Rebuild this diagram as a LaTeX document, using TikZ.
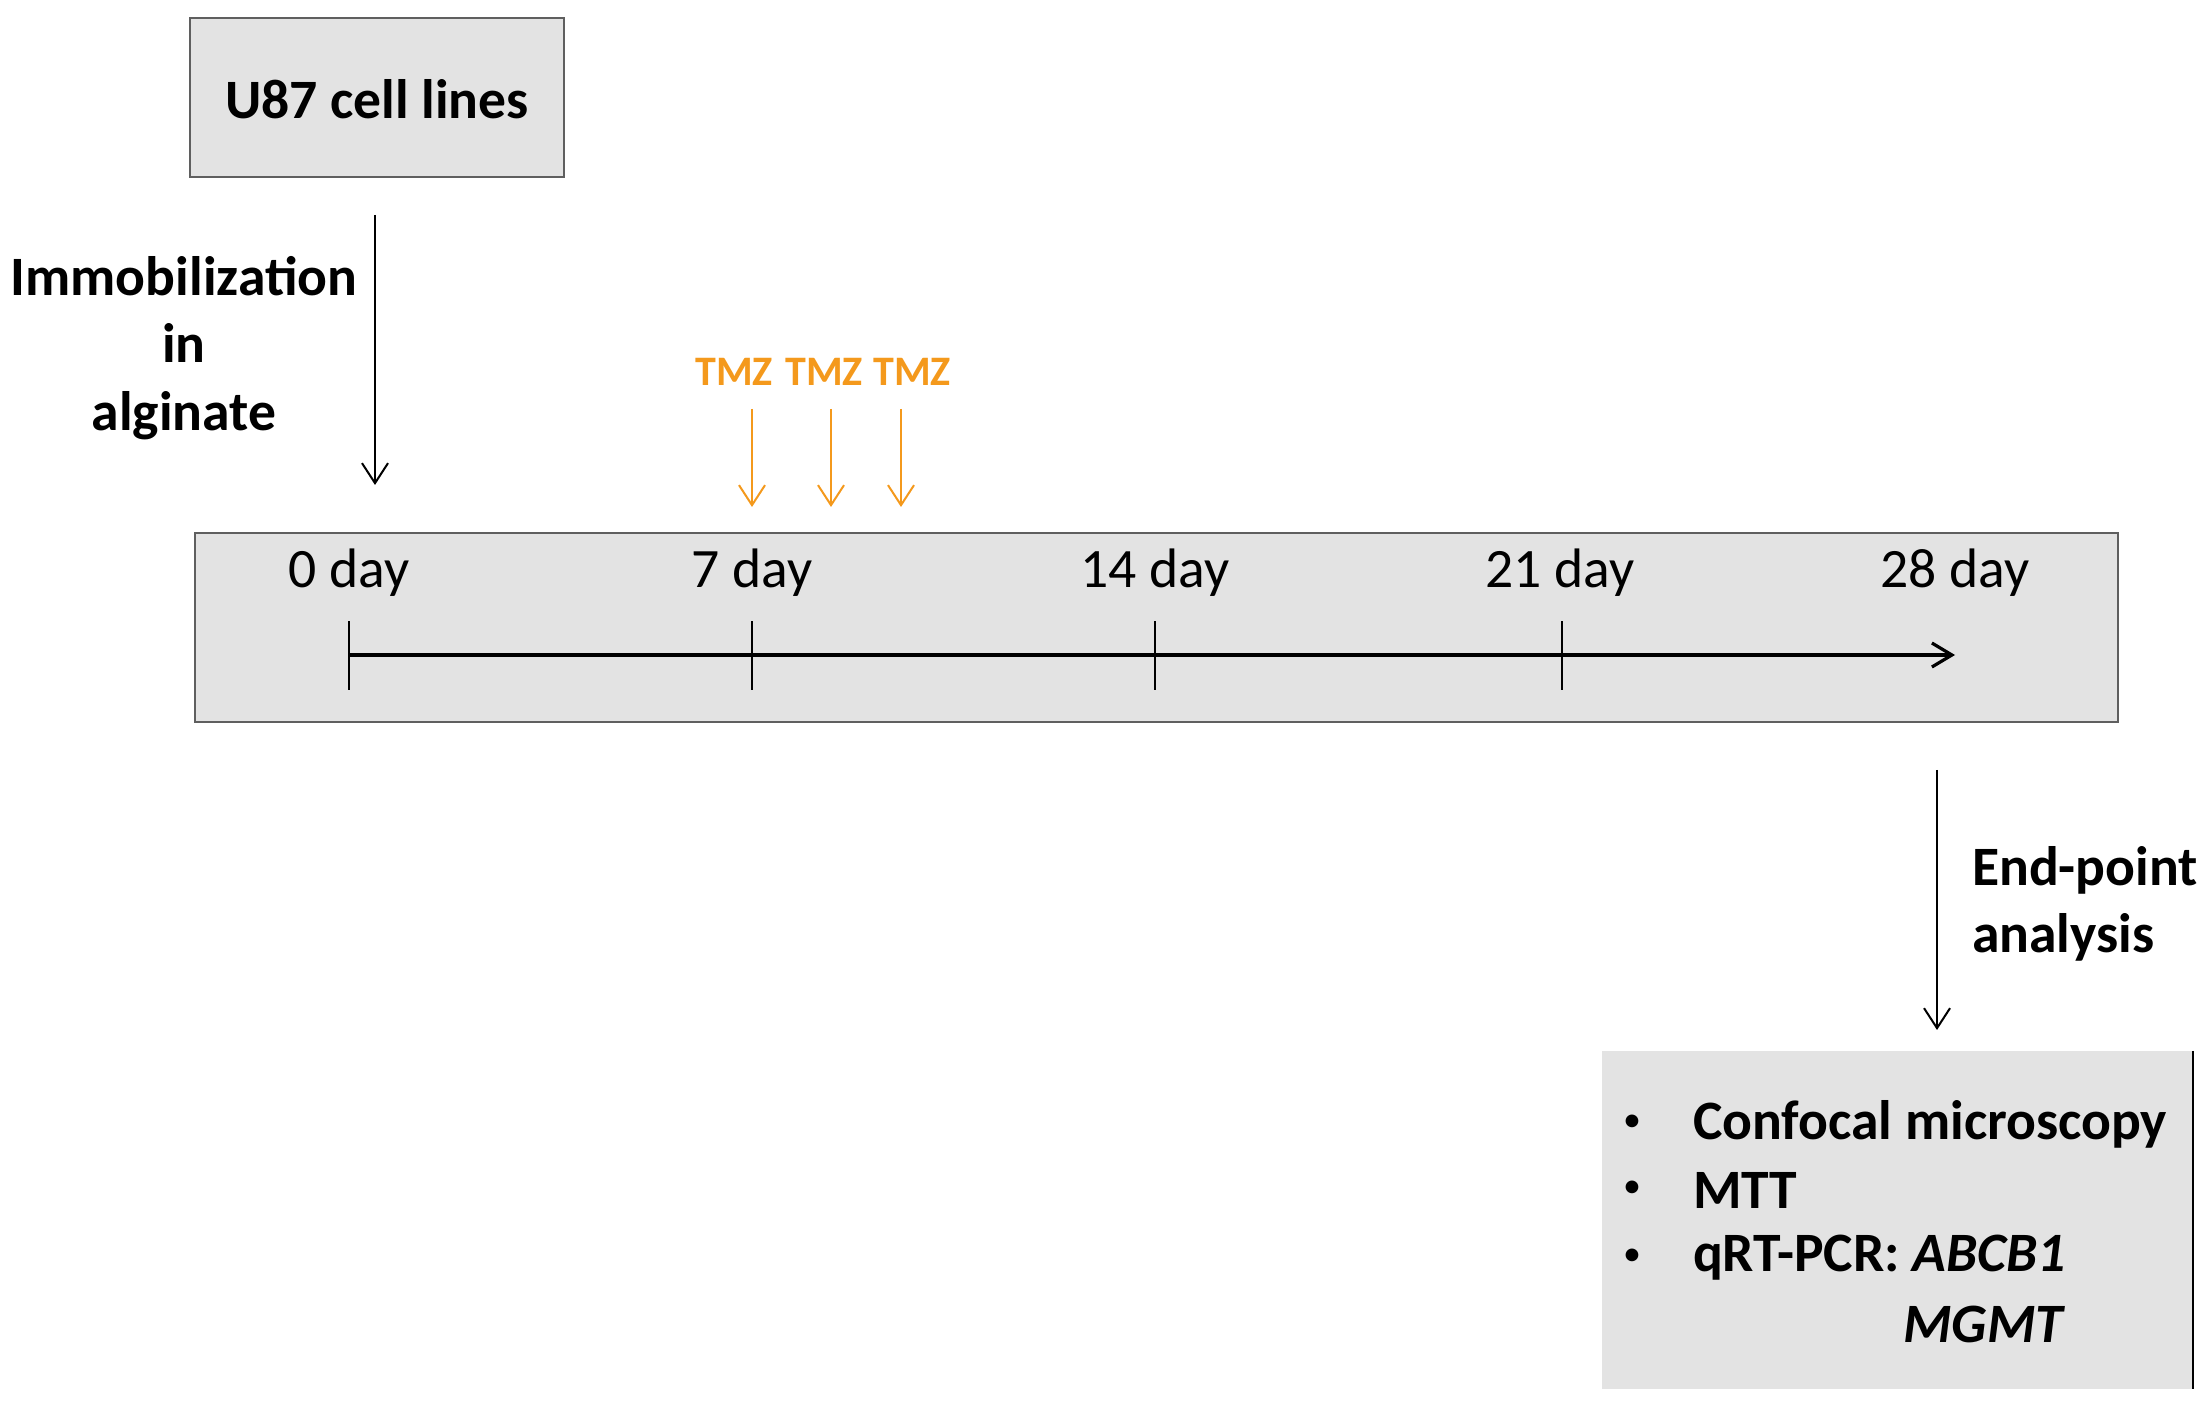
\documentclass[tikz,border=0pt]{standalone}
\usepackage{fontspec}
\setmainfont{Carlito}
\usetikzlibrary{arrows.meta}
\definecolor{boxgray}{RGB}{227,227,227}
\definecolor{edgegray}{RGB}{95,95,95}
\definecolor{tmzorange}{RGB}{244,153,28}
\tikzset{every picture/.style={line width=0.5pt}}

\begin{document}
\begin{tikzpicture}[x=0.25pt,y=0.25pt,yscale=-1,xscale=1,
	box/.style={fill=boxgray,draw=edgegray,line width=0.7pt},
	lbl/.style={inner sep=0pt,font=\fontsize{13.9}{16.9}\selectfont\bfseries},
	daylbl/.style={inner sep=0pt,font=\fontsize{13.9}{16.9}\selectfont},
	tmzlbl/.style={inner sep=0pt,font=\fontsize{10.5}{12}\selectfont\bfseries,text=tmzorange},
	flow/.style={-{Straight Barb[length=5pt,width=6.5pt]}},
	]
	\useasboundingbox (0,0) rectangle (2204,1408);

	%Shape: Rectangle [id:u87box]
	\draw [box] (190,18) rectangle (564,177);
	% Text Node
	\node (u87) [lbl] at (377,99) {U87 cell lines};

	%Straight Lines [id:immob]
	\coordinate (immobtop) at (375,215);
	\coordinate (immobend) at (375,485);
	\draw [flow] (immobtop) -- (immobend);
	% Text Node
	\node (immob) [lbl,align=center] at (184,348) {Immobilization\\in\\alginate};

	%Shape: Rectangle [id:timebox]
	\draw [box] (195,533) rectangle (2118,722);

	%Straight Lines [id:axis]
	\coordinate (d0) at (349,655);
	\coordinate (d7) at (752,655);
	\coordinate (d14) at (1155,655);
	\coordinate (d21) at (1562,655);
	\coordinate (d28) at (1955,655);
	\draw [line width=0.8pt,-{Straight Barb[length=5pt,width=6pt]}] (d0) -- (d28);
	\foreach \t in {d0,d7,d14,d21}
		\draw [line width=0.4pt] ([yshift=8.75pt]\t) -- ([yshift=-8.5pt]\t);

	% Text Node
	\node (l0) [daylbl] at (349,573) {0 day};
	\node (l7) [daylbl] at (752,573) {7 day};
	\node (l14) [daylbl] at (1155,573) {14 day};
	\node (l21) [daylbl] at (1560,573) {21 day};
	\node (l28) [daylbl] at (1955,573) {28 day};

	% Text Node
	\node (tmza) [tmzlbl] at (734,372) {TMZ};
	\node (tmzb) [tmzlbl] at (824,372) {TMZ};
	\node (tmzc) [tmzlbl] at (912,372) {TMZ};
	%Straight Lines [id:tmzarrows]
	\foreach \x in {752,831,901}
		\draw [tmzorange,flow] (\x,409) -- (\x,507);

	%Straight Lines [id:endpoint]
	\coordinate (endtop) at (1937,770);
	\coordinate (endend) at (1937,1030);
	\draw [flow] (endtop) -- (endend);
	% Text Node
	\node (endlbl) [lbl,align=left,anchor=west] at (1971,904) {End-point\\analysis};

	%Shape: Rectangle [id:resbox]
	\fill [boxgray] (1602,1051) rectangle (2193,1389);
	\draw [line width=0.6pt] (2193,1051) -- (2193,1389);

	% Text Node
	\foreach \y in {1123,1189,1257}
		\node [inner sep=0pt,font=\fontsize{9}{10}\selectfont] at (1632,\y) {\textbullet};
	\node (conf) [lbl,anchor=west] at (1692,1124) {Confocal microscopy};
	\node (mtt) [lbl,anchor=west] at (1692,1190) {MTT};
	\node (pcr) [lbl,anchor=west] at (1692,1258) {qRT-PCR: \textit{ABCB1}};
	\node (mgmt) [lbl,anchor=east] at (pcr.east |- 0,1324) {\textit{MGMT}};

\end{tikzpicture}
\end{document}
